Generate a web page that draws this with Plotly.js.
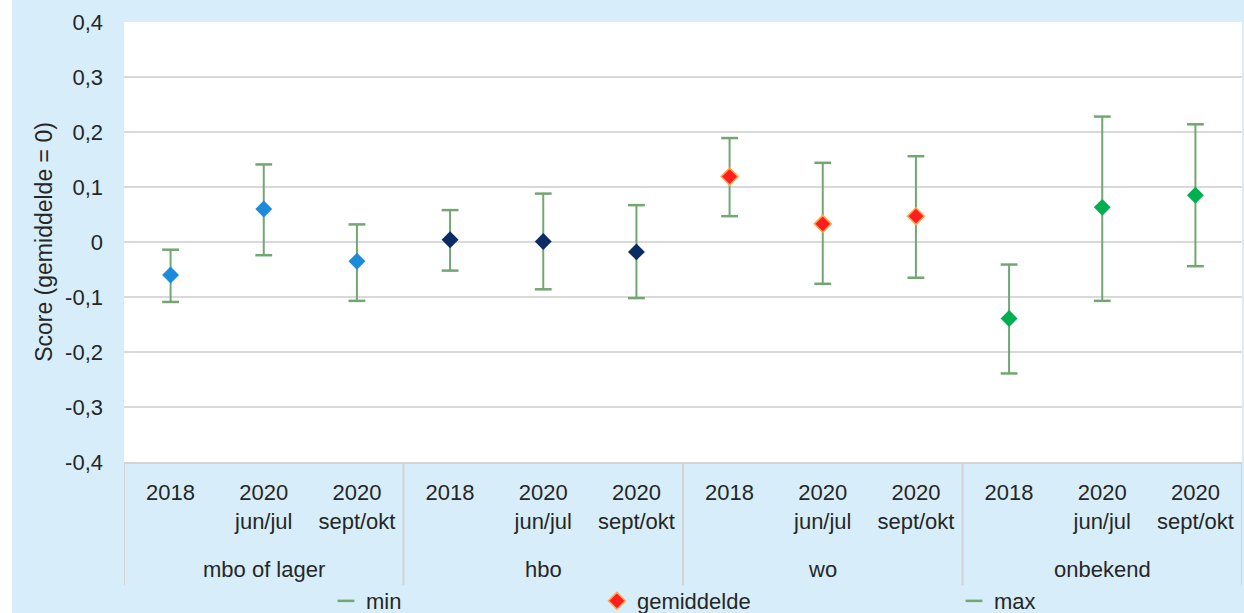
<!DOCTYPE html>
<html>
<head>
<meta charset="utf-8">
<script src="https://cdn.plot.ly/plotly-3.0.1.min.js"></script>
<style>
html, body { margin: 0; padding: 0; background: #ffffff; }
#chart { position: absolute; left: 12px; top: 0; width: 1232px; height: 613px; }
</style>
</head>
<body>
<div id="chart"></div>
<script>
// Categories
const groups = ["mbo of lager", "hbo", "wo", "onbekend"];
const periods = ["2018", "2020<br>jun/jul", "2020<br>sept/okt"];

// Values per group: [2018, 2020 jun/jul, 2020 sept/okt]
const meanMbo = [-0.060, 0.060, -0.035];
const minMbo  = [-0.109, -0.024, -0.107];
const maxMbo  = [-0.014, 0.141, 0.032];

const meanHbo = [0.004, 0.001, -0.018];
const minHbo  = [-0.052, -0.086, -0.102];
const maxHbo  = [0.058, 0.088, 0.067];

const meanWo = [0.119, 0.033, 0.047];
const minWo  = [0.047, -0.076, -0.065];
const maxWo  = [0.189, 0.144, 0.156];

const meanOnb = [-0.139, 0.063, 0.085];
const minOnb  = [-0.239, -0.107, -0.044];
const maxOnb  = [-0.041, 0.228, 0.214];

// Y tick labels
const yTickVals = [-0.4, -0.3, -0.2, -0.1, 0, 0.1, 0.2, 0.3, 0.4];
const yTickText = ["-0,4", "-0,3", "-0,2", "-0,1", "0", "0,1", "0,2", "0,3", "0,4"];

const groupColors = ["#1B8BDB", "#0B2B63", "#FF1E1E", "#00B050"];
const groupLines  = ["#1B8BDB", "#0B2B63", "#FFA64D", "#00B050"];
const barColor = "#72A672";
const FONT = "Liberation Sans, Arial, sans-serif";
const TXT = "#262626";
const FS = 22;

const means = [meanMbo, meanHbo, meanWo, meanOnb];
const mins = [minMbo, minHbo, minWo, minOnb];
const maxs = [maxMbo, maxHbo, maxWo, maxOnb];

// x positions: category index
const xAll = [], tickText = [], minAll = [], maxAll = [];
groups.forEach((g, gi) => {
  periods.forEach((p, pi) => {
    xAll.push(gi * periods.length + pi);
    tickText.push(p);
    minAll.push(mins[gi][pi]);
    maxAll.push(maxs[gi][pi]);
  });
});

const traces = [];
// min caps
traces.push({
  x: xAll, y: minAll, type: "scatter", mode: "markers", name: "min",
  marker: { symbol: "line-ew", size: 12, color: barColor, line: { color: barColor, width: 2.5 } },
  legend: "legend", hoverinfo: "y"
});
// max caps
traces.push({
  x: xAll, y: maxAll, type: "scatter", mode: "markers", name: "max",
  marker: { symbol: "line-ew", size: 12, color: barColor, line: { color: barColor, width: 2.5 } },
  legend: "legend3", hoverinfo: "y"
});
// means with high-low lines
groups.forEach((g, gi) => {
  const xs = periods.map((p, pi) => gi * periods.length + pi);
  traces.push({
    x: xs, y: means[gi], type: "scatter", mode: "markers",
    name: "gemiddelde", showlegend: gi === 2, legend: "legend2",
    marker: { symbol: "diamond", size: 13, color: groupColors[gi], line: { color: groupLines[gi], width: gi === 2 ? 1.5 : 0 } },
    error_y: {
      type: "data", symmetric: false,
      array: means[gi].map((m, i) => maxs[gi][i] - m),
      arrayminus: means[gi].map((m, i) => m - mins[gi][i]),
      color: barColor, thickness: 2, width: 0
    }
  });
});

const nCat = xAll.length;
const shapes = [];
for (let gi = 0; gi <= groups.length; gi++) {
  const xb = gi * periods.length - 0.5;
  shapes.push({
    type: "line", xref: "x", yref: "paper", x0: xb, x1: xb, y0: 0, y1: -0.28,
    line: { color: "#D3D3D3", width: 2 }, layer: "below"
  });
}
const annotations = groups.map((g, gi) => ({
  text: g, xref: "x", yref: "paper", x: gi * periods.length + (periods.length - 1) / 2,
  y: -0.245, showarrow: false, yanchor: "middle",
  font: { family: FONT, size: FS, color: TXT }
}));

const legendCommon = {
  orientation: "h", yanchor: "middle", y: -0.316, bgcolor: "rgba(0,0,0,0)",
  font: { family: FONT, size: FS, color: TXT }, itemwidth: 30
};

const layout = {
  width: 1232, height: 613,
  margin: { l: 112, r: 2, t: 22, b: 151, autoexpand: false },
  paper_bgcolor: "#D7EEFA",
  plot_bgcolor: "#FFFFFF",
  font: { family: FONT, size: FS, color: TXT },
  showlegend: true,
  xaxis: {
    range: [-0.5, nCat - 0.5], tickvals: xAll, ticktext: tickText,
    showgrid: false, zeroline: false, ticks: "", ticklabelstandoff: 10,
    showline: true, linecolor: "#D3D3D3", linewidth: 2,
    tickfont: { family: FONT, size: FS, color: TXT }, fixedrange: true
  },
  yaxis: {
    range: [-0.4, 0.4], tickvals: yTickVals, ticktext: yTickText,
    showgrid: true, gridcolor: "#D9D9D9", gridwidth: 2,
    zeroline: true, zerolinecolor: "#D9D9D9", zerolinewidth: 2,
    ticks: "", ticklabelstandoff: 20, showline: false,
    tickfont: { family: FONT, size: FS, color: TXT },
    title: { text: "Score (gemiddelde = 0)", standoff: 6, font: { family: FONT, size: 23, color: TXT } },
    fixedrange: true
  },
  legend: Object.assign({}, legendCommon, { x: 0.1807, xanchor: "left" }),
  legend2: Object.assign({}, legendCommon, { x: 0.423, xanchor: "left" }),
  legend3: Object.assign({}, legendCommon, { x: 0.7424, xanchor: "left" }),
  shapes: shapes,
  annotations: annotations
};

Plotly.newPlot("chart", traces, layout, { displayModeBar: false, staticPlot: true });
</script>
</body>
</html>
